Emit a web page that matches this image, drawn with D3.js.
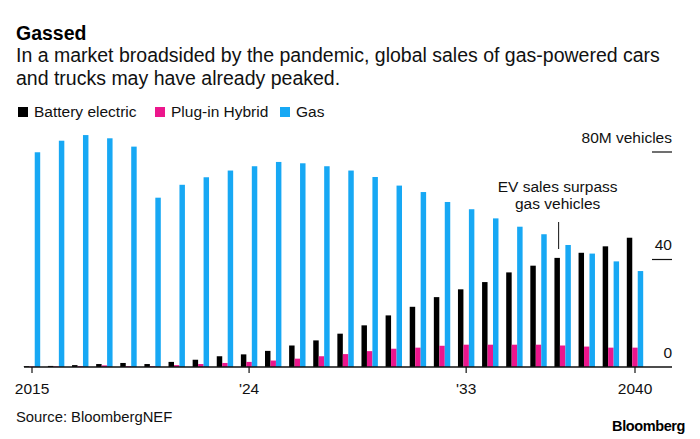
<!DOCTYPE html>
<html>
<head>
<meta charset="utf-8">
<script src="https://cdn.jsdelivr.net/npm/d3@7"></script>
<style>
  html, body { margin: 0; padding: 0; background: #fff; }
  svg { display: block; font-family: "Liberation Sans", Arial, Helvetica, sans-serif; }
</style>
</head>
<body>
<svg id="chart" width="700" height="439"></svg>
<script>
// ---- data ----
const years = [2015, 2016, 2017, 2018, 2019, 2020, 2021, 2022, 2023, 2024, 2025, 2026, 2027,
               2028, 2029, 2030, 2031, 2032, 2033, 2034, 2035, 2036, 2037, 2038, 2039, 2040];
const batteryElectric = [0.3, 0.4, 0.7, 1.1, 1.5, 1.1, 1.9, 2.7, 4.0, 4.7, 6.0, 8.0, 9.9,
                         12.4, 15.5, 19.2, 22.4, 26.0, 28.9, 31.6, 35.2, 37.7, 40.6, 42.5, 44.9, 48.1];
const plugInHybrid = [0.2, 0.2, 0.3, 0.6, 0.3, 0.3, 0.7, 1.1, 1.5, 1.9, 2.4, 3.1, 4.0,
                      4.8, 5.9, 6.8, 7.2, 7.9, 8.3, 8.3, 8.3, 8.3, 8.0, 7.6, 7.2, 7.2];
const gas = [79.9, 84.2, 86.3, 85.1, 82.0, 63.0, 67.8, 70.6, 73.1, 74.7, 76.3, 75.8, 74.7,
             73.1, 70.7, 67.5, 65.1, 61.4, 58.7, 55.3, 52.2, 49.4, 45.4, 42.2, 39.3, 35.7];
const seriesNames = ["Battery electric", "Plug-in Hybrid", "Gas"];
const seriesColors = ["#000000", "#ec168c", "#17a8f4"];
const xTickValues = [2015, 2024, 2033, 2040];
const xTickLabels = ["2015", "'24", "'33", "2040"];
const yTickValues = [0, 40, 80];
const yTickLabels = ["0", "40", "80M vehicles"];

const seriesValues = [batteryElectric, plugInHybrid, gas];
const rows = years.map((y, i) => ({ year: y, values: seriesValues.map(s => s[i]) }));

const svg = d3.select("#chart");

// ---- header ----
svg.append("text").attr("x", 16).attr("y", 40)
  .attr("font-size", 19.5).attr("font-weight", "bold").attr("fill", "#000").text("Gassed");
svg.append("text").attr("x", 16).attr("y", 62)
  .attr("font-size", 19.5).attr("fill", "#111")
  .text("In a market broadsided by the pandemic, global sales of gas-powered cars");
svg.append("text").attr("x", 16).attr("y", 85)
  .attr("font-size", 19.5).attr("fill", "#111")
  .text("and trucks may have already peaked.");

// legend
const legendX = [18, 155, 280];
const legend = svg.append("g");
seriesNames.forEach((name, i) => {
  legend.append("rect").attr("x", legendX[i]).attr("y", 107).attr("width", 10).attr("height", 10)
    .attr("fill", seriesColors[i]);
  legend.append("text").attr("x", legendX[i] + 16).attr("y", 117)
    .attr("font-size", 15.5).attr("fill", "#111").text(name);
});

// ---- scales ----
const step = 24.12;
const x0 = d3.scaleBand().domain(years)
  .range([32 - step / 2, 635 + step / 2])
  .paddingInner(0.32).paddingOuter(0.16);
const x1 = d3.scaleBand().domain(d3.range(seriesNames.length)).range([0, x0.bandwidth()]);
const y = d3.scaleLinear().domain([0, 80]).range([367, 152]);

// ---- bars ----
const groups = svg.append("g").selectAll("g").data(rows).join("g")
  .attr("transform", d => `translate(${x0(d.year)},0)`);
groups.selectAll("rect").data(d => d.values.map((v, i) => ({ v, i }))).join("rect")
  .attr("x", d => x1(d.i))
  .attr("width", x1.bandwidth())
  .attr("y", d => y(d.v))
  .attr("height", d => y(0) - y(d.v))
  .attr("fill", d => seriesColors[d.i]);

// ---- y axis (right) ----
const yAxis = svg.append("g");
yTickValues.forEach((v, i) => {
  if (v !== 0) {
    yAxis.append("line").attr("x1", 652).attr("x2", 672)
      .attr("y1", y(v)).attr("y2", y(v)).attr("stroke", "#111").attr("stroke-width", 1.2);
  }
  yAxis.append("text").attr("x", 672).attr("y", y(v) - 9.5)
    .attr("text-anchor", "end").attr("font-size", 15.5).attr("fill", "#111").text(yTickLabels[i]);
});

// ---- x axis ----
const xAxis = d3.axisBottom(x0)
  .tickValues(xTickValues)
  .tickFormat(d => xTickLabels[xTickValues.indexOf(d)])
  .tickSize(6).tickPadding(10);
const gx = svg.append("g").attr("transform", `translate(0,${y(0)})`).call(xAxis);
gx.select(".domain").remove();
gx.selectAll(".tick line").attr("stroke", "#111").attr("stroke-width", 1.2);
gx.selectAll(".tick text").attr("font-size", 15.5).attr("fill", "#111")
  .attr("font-family", "\"Liberation Sans\", Arial, sans-serif");
svg.append("line").attr("x1", 24).attr("x2", 672).attr("y1", y(0)).attr("y2", y(0))
  .attr("stroke", "#111").attr("stroke-width", 1.3);

// ---- annotation ----
const annX = x0(2037) + x0.bandwidth() / 2 - 5;
svg.append("text").attr("x", annX).attr("y", 192).attr("text-anchor", "middle")
  .attr("font-size", 15.5).attr("fill", "#111").text("EV sales surpass");
svg.append("text").attr("x", annX).attr("y", 209).attr("text-anchor", "middle")
  .attr("font-size", 15.5).attr("fill", "#111").text("gas vehicles");
svg.append("line").attr("x1", annX + 1).attr("x2", annX + 1).attr("y1", 222).attr("y2", 249)
  .attr("stroke", "#111").attr("stroke-width", 1);

// ---- footer ----
svg.append("text").attr("x", 16).attr("y", 422).attr("font-size", 14.8).attr("fill", "#111")
  .text("Source: BloombergNEF");
svg.append("text").attr("x", 685).attr("y", 431).attr("text-anchor", "end")
  .attr("font-size", 14.5).attr("font-weight", "bold").attr("fill", "#000")
  .attr("letter-spacing", -0.4).text("Bloomberg");
</script>
</body>
</html>
